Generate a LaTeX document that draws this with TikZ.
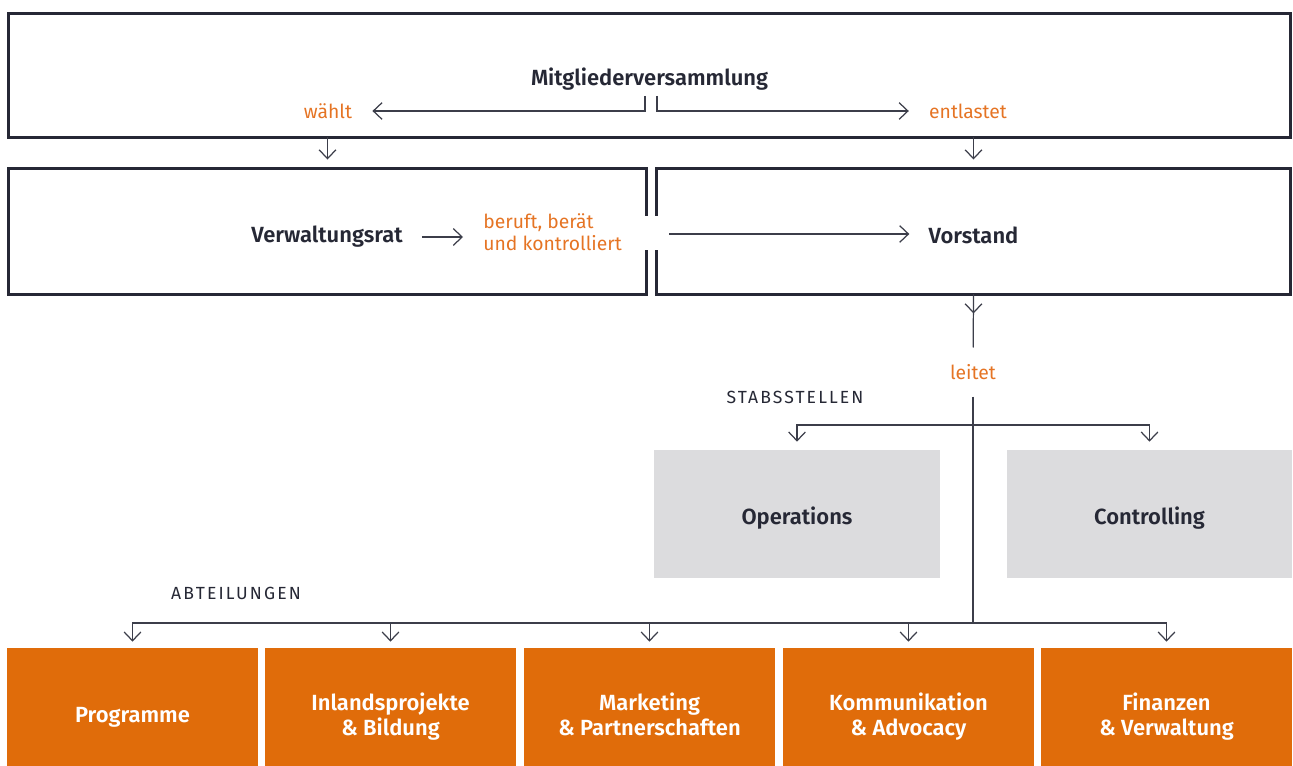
\documentclass[tikz,border=0pt]{standalone}
\usepackage{fontspec}
\setmainfont{Fira Sans}[BoldFont={Fira Sans SemiBold}]
\usetikzlibrary{arrows.meta}
\definecolor{ink}{HTML}{262835}
\definecolor{rust}{HTML}{E06C0A}
\definecolor{noteorange}{HTML}{E57424}
\definecolor{stone}{HTML}{DCDCDE}
\definecolor{wire}{HTML}{3C3E4A}

\begin{document}
\begin{tikzpicture}[x=0.02cm, y=-0.02cm,
  frame/.style = {draw=ink, line width=1.7pt, inner sep=0pt, outer sep=0pt},
  staff/.style = {fill=stone, inner sep=0pt, text=ink, text height=14.4pt, text depth=2.8pt, font=\fontsize{12.5}{15}\selectfont\bfseries},
  dept/.style = {fill=rust, inner sep=0pt, minimum width=5.02cm, minimum height=2.76cm, align=center, text=white, text depth=2.8pt, font=\fontsize{12.5}{14.2}\selectfont\bfseries},
  title/.style = {text=ink, inner xsep=0.38cm, font=\fontsize{12.5}{15}\selectfont\bfseries},
  note/.style = {text=noteorange, inner xsep=0.4cm, align=left, font=\fontsize{11}{12.5}\selectfont},
  caps/.style = {text=ink, font=\fontsize{10}{12}\selectfont\addfontfeature{LetterSpace=12}},
  link/.style = {draw=wire, line width=0.7pt},
  conn/.style = {link, -{Straight Barb[length=5pt,width=9.5pt]}}]
\useasboundingbox (0,0) rectangle (1293,766);

%\node[style] (name) at (x,y) {text};
\node[frame, title, text height=14.4pt, text depth=2.8pt, minimum width=25.64cm, minimum height=2.48cm] (mv) at (649.5,75.5) {Mitgliederversammlung};
\node[frame, minimum width=12.76cm, minimum height=2.52cm] (vr) at (327.5,231.5) {};
\node[frame, minimum width=12.68cm, minimum height=2.52cm] (vs) at (973.5,231.5) {};
\node[fill=white, inner sep=0pt, minimum width=0.32cm, minimum height=0.68cm] (gap) at (651.5,233) {};
\node[title] (vrt) at (327,237) {Verwaltungsrat};
\node[title] (vst) at (973.5,235) {Vorstand};

% waehlt / entlastet
\node[note] (waehlt) at (328,111) {wählt};
\node[note] (entl) at (968,111) {entlastet};
\coordinate (wl) at (645,96);
\coordinate (el) at (657,96);
\draw[conn] (wl) |- (waehlt);
\draw[conn] (el) |- (entl);
\draw[conn, shorten >=0.18cm] (mv.south -| vr) -- (vr.north);
\draw[conn, shorten >=0.18cm] (mv.south -| vs) -- (vs.north);

% Verwaltungsrat -> Vorstand
\node[note, anchor=west] (bkt) at (463,232) {beruft, berät\\und kontrolliert};
\draw[conn] (vrt.east) -- (vrt.east -| bkt.west);
\coordinate (vsin) at (669,234);
\draw[conn] (vsin) -- (vsin -| vst.west);

% leitet
\node[note, inner xsep=0pt, inner ysep=0.33cm] (leitet) at (973,372) {leitet};
\draw[link] (vs.south) -- (leitet);
\draw[conn] (vs.south) -- ++(0,19);
\coordinate (stab) at (973,425);
\coordinate (abt) at (973,623);
\draw[link] (leitet) -- (abt);

% Stabsstellen
\node[caps] (stabs) at (795,397) {STABSSTELLEN};
\node[staff, minimum width=5.72cm, minimum height=2.56cm] (op) at (797,514) {Operations};
\node[staff, minimum width=5.70cm, minimum height=2.56cm] (ct) at (1149.5,514) {Controlling};
\draw[conn, shorten >=0.16cm] (stab) -| (op);
\draw[conn, shorten >=0.16cm] (stab) -| (ct);

% Abteilungen
\node[caps] (abtl) at (236,593) {ABTEILUNGEN};
\foreach \i/\cx/\txt in {1/132.5/Programme, 2/390.5/{Inlandsprojekte\\\& Bildung}, 3/649.5/{Marketing\\\& Partnerschaften}, 4/908.5/{Kommunikation\\\& Advocacy}, 5/1166.5/{Finanzen\\\& Verwaltung}}
  \node[dept] (d\i) at (\cx,717) {\txt};
\foreach \i in {1,...,5}
  \draw[conn, shorten >=0.12cm] (abt) -| (d\i);
\end{tikzpicture}
\end{document}
